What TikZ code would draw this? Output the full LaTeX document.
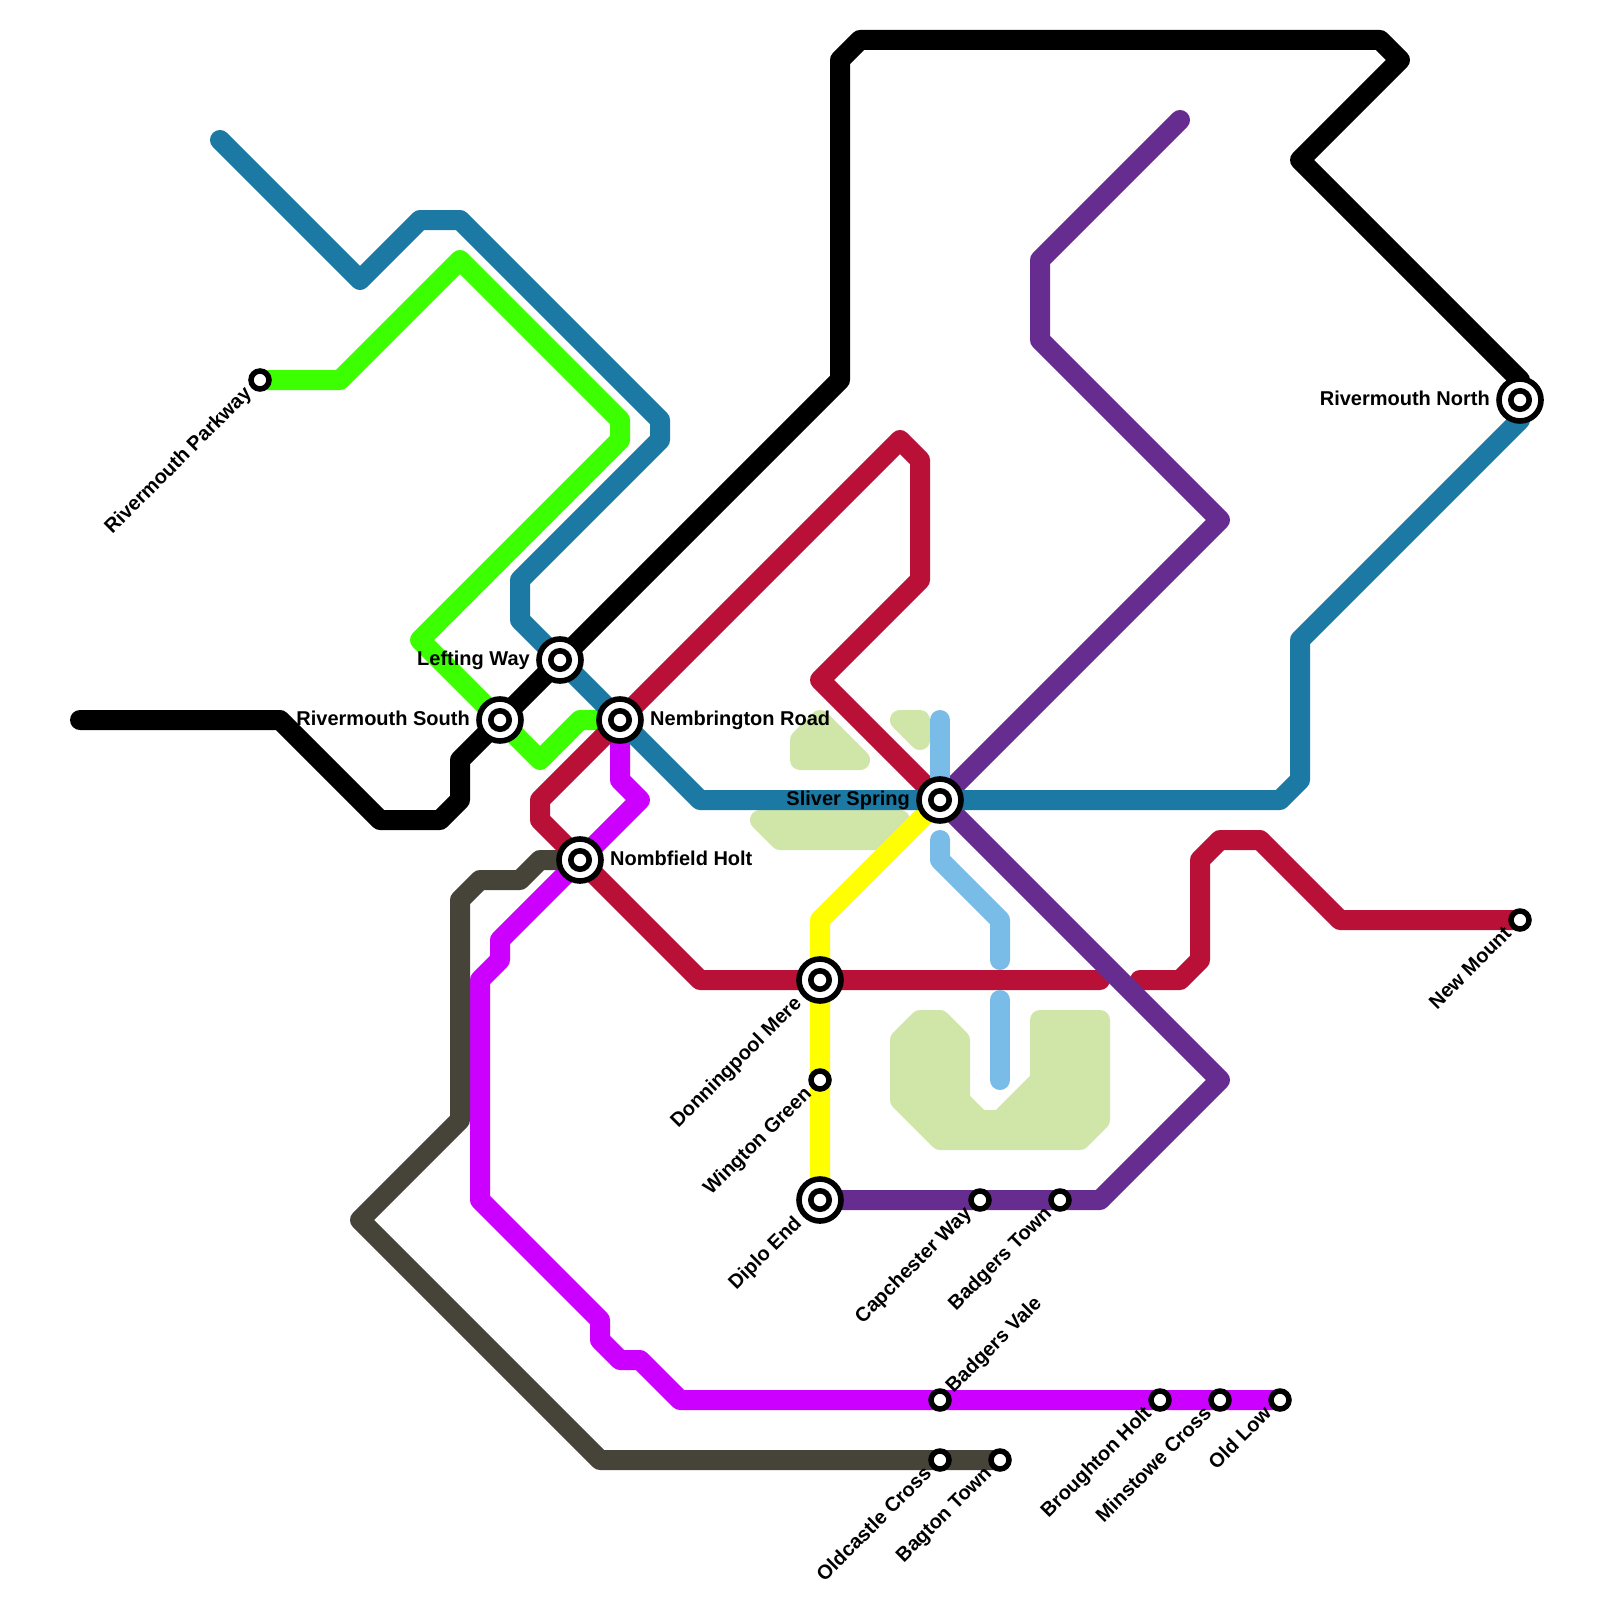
\documentclass[tikz,border=0pt]{standalone}
\usepackage{fontspec}
\setmainfont{Liberation Sans}
\usetikzlibrary{backgrounds}

\definecolor{lineblue}{HTML}{1B79A3}
\definecolor{linegreen}{HTML}{3CFF00}
\definecolor{linered}{HTML}{B91038}
\definecolor{linepurple}{HTML}{662C90}
\definecolor{linepink}{HTML}{CC00FF}
\definecolor{linedark}{HTML}{464338}
\definecolor{linesky}{HTML}{7ABCE8}
\definecolor{lineyellow}{HTML}{FFFF00}
\definecolor{parkgreen}{HTML}{D0E5A8}

\begin{document}
\begin{tikzpicture}[
	x=1pt,
	y=-1pt,
	font=\fontsize{20}{22}\selectfont\bfseries,
	route/.style={
		line width=20pt,
		line cap=round,
		line join=round,
	},
	park/.style={
		draw=parkgreen,
		fill=parkgreen,
		line width=20pt,
		line join=round,
	},
	halt/.style={
		circle,
		draw=black,
		fill=white,
		line width=5.5pt,
		minimum size=18pt,
		inner sep=0pt,
	},
	interchange/.style={
		circle,
		draw=black,
		fill=white,
		line width=5.6pt,
		minimum size=42pt,
		inner sep=0pt,
		path picture={
			\draw[black, line width=5.6pt, fill=white]
				(path picture bounding box.center) circle (9.2pt);
		},
	},
	lbl/.style={inner sep=0pt, text height=14pt, text depth=4pt},
	lbltilt/.style={lbl, rotate=45, anchor=east},
]

\useasboundingbox (0,0) rectangle (1600,1600);

% --- Interchanges ---
\node[interchange] (rivsouth) at (500,720) {};
\node[interchange] (lefting) at (560,660) {};
\node[interchange] (nembrington) at (620,720) {};
\node[interchange] (nombfield) at (580,860) {};
\node[interchange] (sliver) at (940,800) {};
\node[interchange] (donningpool) at (820,980) {};
\node[interchange] (diplo) at (820,1200) {};
\node[interchange] (rivnorth) at (1520,400) {};

% --- Plain stops ---
\node[halt] (parkway) at (260,380) {};
\node[halt] (newmount) at (1520,920) {};
\node[halt] (wington) at (820,1080) {};
\node[halt] (capchester) at (980,1200) {};
\node[halt] (badgerstown) at (1060,1200) {};
\node[halt] (badgersvale) at (940,1400) {};
\node[halt] (broughton) at (1160,1400) {};
\node[halt] (minstowe) at (1220,1400) {};
\node[halt] (oldlow) at (1280,1400) {};
\node[halt] (oldcastle) at (940,1460) {};
\node[halt] (bagton) at (1000,1460) {};

% --- Loose ends of the routes ---
\coordinate (blackstart) at (80,720);
\coordinate (bluestart) at (220,140);
\coordinate (redtail) at (1100,980);
\coordinate (redrest) at (1140,980);
\coordinate (skytop) at (940,720);
\coordinate (skymid) at (940,840);
\coordinate (skymidend) at (1000,960);
\coordinate (skylow) at (1000,1000);
\coordinate (skylowend) at (1000,1080);

% --- Labels ---
\node[lbl, anchor=east] at ([xshift=-30pt]rivsouth.center) {Rivermouth South};
\node[lbl, anchor=east] at ([xshift=-30pt]lefting.center) {Lefting Way};
\node[lbl, anchor=west] at ([xshift=30pt]nembrington.center) {Nembrington Road};
\node[lbl, anchor=west] at ([xshift=30pt]nombfield.center) {Nombfield Holt};
\node[lbl, anchor=east] at ([xshift=-30pt]sliver.center) {Sliver Spring};
\node[lbl, anchor=east] at ([xshift=-30pt]rivnorth.center) {Rivermouth North};

\node[lbltilt] at ([shift={(-11pt,-11pt)}]parkway.center) {Rivermouth Parkway};
\node[lbltilt] at ([shift={(-11pt,-11pt)}]newmount.center) {New Mount};
\node[lbltilt] at ([shift={(-11pt,-11pt)}]wington.center) {Wington Green};
\node[lbltilt] at ([shift={(-11pt,-11pt)}]capchester.center) {Capchester Way};
\node[lbltilt] at ([shift={(-11pt,-11pt)}]badgerstown.center) {Badgers Town};
\node[lbltilt] at ([shift={(-11pt,-11pt)}]broughton.center) {Broughton Holt};
\node[lbltilt] at ([shift={(-11pt,-11pt)}]minstowe.center) {Minstowe Cross};
\node[lbltilt] at ([shift={(-11pt,-11pt)}]oldlow.center) {Old Low};
\node[lbltilt] at ([shift={(-11pt,-11pt)}]oldcastle.center) {Oldcastle Cross};
\node[lbltilt] at ([shift={(-11pt,-11pt)}]bagton.center) {Bagton Town};
\node[lbltilt] at ([shift={(-21pt,-21pt)}]donningpool.center) {Donningpool Mere};
\node[lbltilt] at ([shift={(-21pt,-21pt)}]diplo.center) {Diplo End};
\node[lbl, rotate=45, anchor=west] at ([shift={(10pt,10pt)}]badgersvale.center) {Badgers Vale};

\begin{scope}[on background layer]
	% --- Parkland ---
	\draw[park] (800,760) -- (800,740) -- (820,720) -- (860,760) -- cycle;
	\draw[park] (900,720) -- (920,720) -- (920,740) -- cycle;
	\draw[park] (760,820) -- (780,840) -- (880,840) -- (900,820) -- cycle;
	\draw[park] (900,1040) -- (920,1020) -- (940,1020) -- (960,1040) -- (960,1100)
		-- (980,1120) -- (1000,1120) -- (1040,1080) -- (1040,1020) -- (1100,1020)
		-- (1100,1120) -- (1080,1140) -- (940,1140) -- (900,1100) -- cycle;

	% --- Routes ---
	\draw[route, lineyellow] (sliver.center) -- (820,920) -- (diplo.center);
	\draw[route, linegreen] (parkway.center) -- (340,380) -- (460,260) -- (620,420)
		-- (620,440) -- (420,640) -- (rivsouth.center) -- (540,760) -- (580,720)
		-- (nembrington.center);
	\draw[route, linepink] (nembrington.center) -- (620,780) -- (640,800)
		-- (500,940) -- (500,960) -- (480,980) -- (480,1200) -- (600,1320)
		-- (600,1340) -- (620,1360) -- (640,1360) -- (680,1400) -- (oldlow.center);
	\draw[route, linedark] (nombfield.center) -- (540,860) -- (520,880) -- (480,880)
		-- (460,900) -- (460,1120) -- (360,1220) -- (600,1460) -- (bagton.center);
	\draw[route, linered] (redtail) -- (700,980) -- (540,820) -- (540,800)
		-- (900,440) -- (920,460) -- (920,580) -- (820,680) -- (sliver.center);
	\draw[route, linered] (redrest) -- (1180,980) -- (1200,960) -- (1200,860)
		-- (1220,840) -- (1260,840) -- (1340,920) -- (newmount.center);
	\draw[route, linepurple] (1180,120) -- (1040,260) -- (1040,340) -- (1220,520)
		-- (sliver.center) -- (1220,1080) -- (1100,1200) -- (diplo.center);
	\draw[route, linesky] (skytop) -- (sliver.center);
	\draw[route, linesky] (skymid) -- (940,860) -- (1000,920) -- (skymidend);
	\draw[route, linesky] (skylow) -- (skylowend);
	\draw[route, lineblue] (bluestart) -- (360,280) -- (420,220) -- (460,220)
		-- (660,420) -- (660,440) -- (520,580) -- (520,620) -- (700,800)
		-- (1280,800) -- (1300,780) -- (1300,640) -- (1520,420) -- (rivnorth.center);
	\draw[route, black] (blackstart) -- (280,720) -- (380,820) -- (440,820)
		-- (460,800) -- (460,760) -- (840,380) -- (840,60) -- (860,40) -- (1380,40)
		-- (1400,60) -- (1300,160) -- (1520,380) -- (rivnorth.center);
\end{scope}

\end{tikzpicture}
\end{document}
